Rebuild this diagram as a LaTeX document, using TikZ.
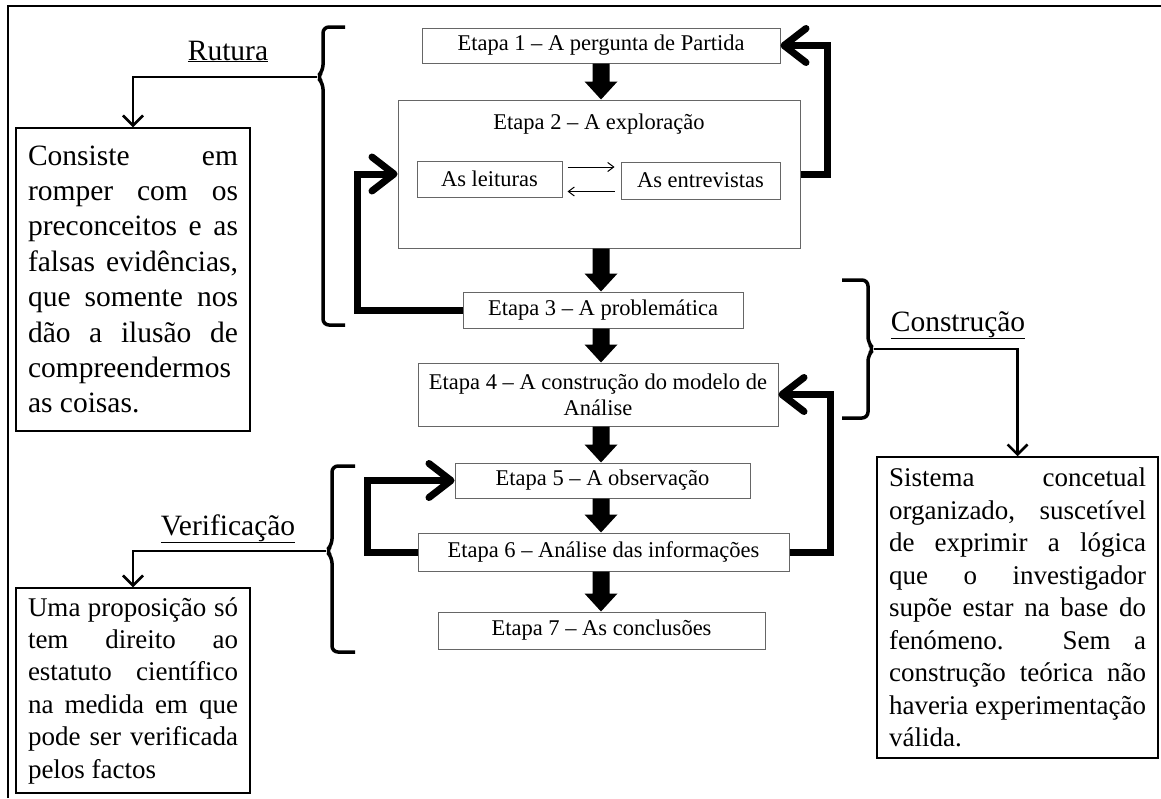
\documentclass[tikz,border=0pt]{standalone}
\usepackage{fontspec}
\setmainfont{Liberation Serif}
\usetikzlibrary{arrows.meta,calc}
\tikzset{
 etapa/.style={draw=black!60, line width=1pt, inner sep=0pt, font=\fontsize{22.5}{26}\selectfont, align=center},
 desc/.style={draw=black, line width=1.5pt, inner sep=0pt, align=left},
 lbl/.style={inner sep=0pt, anchor=base, font=\fontsize{29.5}{35}\selectfont},
 brace/.style={line width=3.5pt, rounded corners=6pt},
 pointer/.style={line width=2.5pt, -{Straight Barb[length=10pt,width=20pt]}},
 fb/.style={line width=7pt, -{Straight Barb[length=22pt,width=34pt,round]}},
 swaparrow/.style={line width=1pt, -{Straight Barb[length=6pt,width=9pt]}},
 framerule/.style={line width=2pt}
}
\newlength{\jlw}
\newcommand{\jl}[1]{\makebox[\jlw][s]{#1}}
\newcommand{\jset}[1]{\spaceskip=0pt\relax\xspaceskip=0pt\relax\setlength{\jlw}{#1}}
\newcommand{\blockarrow}[2]{%
 \fill ($(ax |- #1.south)+(-8.5,0)$) -- ($(ax |- #2.north)+(-8.5,-18)$) -- ($(ax |- #2.north)+(-16.5,-18)$) -- (ax |- #2.north) -- ($(ax |- #2.north)+(16.5,-18)$) -- ($(ax |- #2.north)+(8.5,-18)$) -- ($(ax |- #1.south)+(8.5,0)$) -- cycle;}
\begin{document}
\begin{tikzpicture}[x=1pt,y=-1pt]
\useasboundingbox (0,0) rectangle (1161,798);
\draw[framerule] (8,798) -- (8,6) -- (1161,6);
\coordinate (ax) at (601,0);

% Etapa boxes
\node[etapa, minimum width=358pt, minimum height=35pt] (e1) at (601,45.5) {Etapa 1 – A pergunta de Partida};
\node[etapa, minimum width=402pt, minimum height=148pt] (e2) at (599,174) {};
\node[inner sep=0pt, anchor=base, font=\fontsize{22.5}{26}\selectfont] (e2t) at (599,129) {Etapa 2 – A exploração};
\node[etapa, minimum width=145pt, minimum height=36pt] (lei) at (489.5,179) {As leituras};
\node[etapa, minimum width=159pt, minimum height=37pt] (ent) at (700.5,180.5) {As entrevistas};
\node[etapa, minimum width=280pt, minimum height=36pt] (e3) at (603,310) {Etapa 3 – A problemática};
\node[etapa, minimum width=360pt, minimum height=63pt] (e4) at (598,394.5) {Etapa 4 – A construção do modelo de\\Análise};
\node[etapa, minimum width=295pt, minimum height=35pt] (e5) at (602.5,480.5) {Etapa 5 – A observação};
\node[etapa, minimum width=371pt, minimum height=38pt] (e6) at (603.5,552) {Etapa 6 – Análise das informações};
\node[etapa, minimum width=327pt, minimum height=37pt] (e7) at (601.5,630.5) {Etapa 7 – As conclusões};

% swap arrows
\draw[swaparrow, shorten <=5pt, shorten >=6pt] ([yshift=12pt]lei.east) -- ([yshift=12pt]lei.east -| ent.west);
\draw[swaparrow, shorten <=6pt, shorten >=5pt] ([yshift=-11pt]ent.west) -- ([yshift=-11pt]ent.west -| lei.east);

% block arrows
\blockarrow{e1}{e2}
\blockarrow{e2}{e3}
\blockarrow{e3}{e4}
\blockarrow{e4}{e5}
\blockarrow{e5}{e6}
\blockarrow{e6}{e7}

% feedback loops
\draw[fb] (e2.east) -- ++(27,0) |- (e1.east);
\draw[fb] (e3.west) -| ([xshift=-40pt]e2.west) -- (e2.west);
\draw[fb] (e6.west) -| ([xshift=-87pt]e5.west) -- (e5.west);
\draw[fb] (e6.east) -| ([xshift=52pt]e4.east) -- (e4.east);

% description boxes
\node[desc, text width=210pt, minimum width=234pt, minimum height=303pt, font=\fontsize{29.5}{35.4}\selectfont] (d1) at (133,279.5)
 {\jset{210pt}\jl{Consiste em}\\\jl{romper com os}\\\jl{preconceitos e as}\\\jl{falsas evidências,}\\\jl{que somente nos}\\\jl{dão a ilusão de}\\\jl{compreendermos}\\as coisas.};
\node[desc, text width=210pt, minimum width=234pt, minimum height=205pt, font=\fontsize{27}{32.4}\selectfont] (d2) at (133,690.5)
 {\jset{210pt}\jl{Uma proposição só}\\\jl{tem direito ao}\\\jl{estatuto científico}\\\jl{na medida em que}\\\jl{pode ser verificada}\\pelos factos};
\node[desc, text width=257pt, minimum width=281pt, minimum height=301pt, font=\fontsize{27}{32.5}\selectfont] (d3) at (1017.5,607.5)
 {\jset{257pt}\jl{Sistema concetual}\\\jl{organizado, suscetível}\\\jl{de exprimir a lógica}\\\jl{que o investigador}\\\jl{supõe estar na base do}\\\jl{fenómeno. Sem a}\\\jl{construção teórica não}\\\jl{haveria experimentação}\\válida.};

% labels
\node[lbl] (lr) at (228,60) {\underline{Rutura}};
\node[lbl] (lv) at (228,535) {\underline{Verificação}};
\node[lbl] (lc) at (958,331) {\underline{Construção}};

% braces
\coordinate (rb) at (317,77);
\coordinate (vb) at (326,551);
\coordinate (cb) at (874,349);
\draw[brace] (345,27) -- (323,27) -- (323,71) -- (rb) -- (323,83) -- (323,325) -- (345,325);
\draw[brace] (355,466) -- (332,466) -- (332,545) -- (vb) -- (332,557) -- (332,652) -- (355,652);
\draw[brace] (842,280) -- (868,280) -- (868,343) -- (cb) -- (868,355) -- (868,418) -- (842,418);

% pointers
\draw[pointer] (rb) -| (d1.north);
\draw[pointer] (vb) -| (d2.north);
\draw[pointer] (cb) -| (d3.north);
\end{tikzpicture}
\end{document}
